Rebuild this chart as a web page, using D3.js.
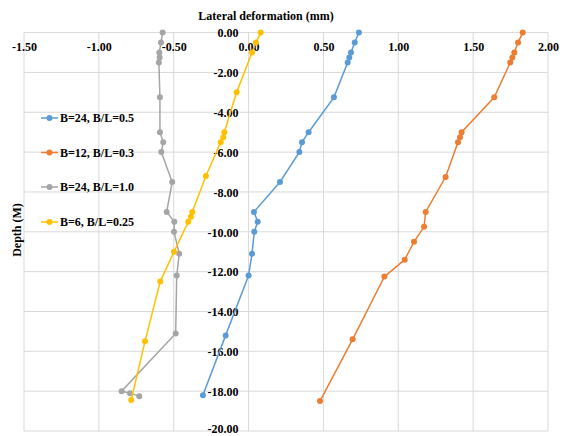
<!DOCTYPE html>
<html><head><meta charset="utf-8">
<script src="https://cdn.jsdelivr.net/npm/d3@7"></script>
<style>
html,body{margin:0;padding:0;background:#fff;}
svg text{font-family:"Liberation Serif","Times New Roman","DejaVu Serif",serif !important;font-weight:bold;fill:#000;}
</style></head>
<body><svg id="c" width="563" height="436"></svg>
<script>
const xTicks = [-1.5,-1.0,-0.5,0,0.5,1.0,1.5,2.0];
const yTicks = [0,-2,-4,-6,-8,-10,-12,-14,-16,-18,-20];

const seriesNames = ["B=24, B/L=0.5","B=12, B/L=0.3","B=24, B/L=1.0","B=6, B/L=0.25"];
const seriesColors = ["#5B9BD5","#ED7D31","#A5A5A5","#FFC000"];

const blueDepth = [0,-0.5,-1,-1.25,-1.5,-3.25,-5,-5.5,-6,-7.5,-9,-9.5,-10,-11.1,-12.2,-15.2,-18.2];
const blueDef   = [0.737,0.709,0.684,0.673,0.662,0.570,0.401,0.357,0.339,0.210,0.036,0.061,0.038,0.023,0.000,-0.153,-0.305];

const orangeDepth = [0,-0.5,-1,-1.25,-1.5,-3.25,-5,-5.25,-5.5,-7.25,-9,-9.75,-10.5,-11.4,-12.25,-15.4,-18.5];
const orangeDef   = [1.831,1.800,1.775,1.762,1.748,1.641,1.423,1.412,1.399,1.316,1.183,1.172,1.105,1.043,0.907,0.695,0.477];

const grayDepth = [0,-0.5,-1,-1.25,-1.5,-3.25,-5,-5.5,-6,-7.5,-9,-9.5,-10,-11.1,-12.2,-15.1,-18.0,-18.1,-18.25];
const grayDef   = [-0.574,-0.585,-0.596,-0.594,-0.599,-0.592,-0.592,-0.570,-0.583,-0.510,-0.547,-0.496,-0.498,-0.463,-0.480,-0.487,-0.848,-0.792,-0.730];

const yellowDepth = [0,-0.5,-1,-3,-5,-5.25,-5.5,-7.2,-9,-9.25,-9.5,-11,-12.5,-15.5,-18.45];
const yellowDef   = [0.081,0.049,0.023,-0.080,-0.162,-0.169,-0.186,-0.285,-0.376,-0.385,-0.403,-0.498,-0.590,-0.692,-0.784];

const series = [
  {name:seriesNames[0], color:seriesColors[0], x:blueDef,   y:blueDepth},
  {name:seriesNames[1], color:seriesColors[1], x:orangeDef, y:orangeDepth},
  {name:seriesNames[2], color:seriesColors[2], x:grayDef,   y:grayDepth},
  {name:seriesNames[3], color:seriesColors[3], x:yellowDef, y:yellowDepth}
];

const FONT = '"Liberation Serif","Times New Roman","DejaVu Serif",serif';
const svg = d3.select("#c");
const L = 24, R = 548, T = 32.6, B = 431;
const x = d3.scaleLinear().domain([-1.5,2.0]).range([L,R]);
const y = d3.scaleLinear().domain([0,-20]).range([T,B]);
const fmt = d => (Math.abs(d) < 1e-9 ? 0 : d).toFixed(2);

// gridlines
const grid = svg.append("g");
grid.selectAll("line.v").data(xTicks).join("line")
  .attr("x1", d=>x(d)).attr("x2", d=>x(d)).attr("y1", T).attr("y2", B)
  .attr("stroke", "#D9D9D9").attr("stroke-width", 1);
grid.selectAll("line.h").data(yTicks).join("line")
  .attr("x1", L).attr("x2", R).attr("y1", d=>y(d)).attr("y2", d=>y(d))
  .attr("stroke", "#D9D9D9").attr("stroke-width", 1);

// x axis (labels below the top line)
const gx = svg.append("g").attr("transform", `translate(0,${T})`)
  .call(d3.axisBottom(x).tickValues(xTicks).tickFormat(fmt).tickSize(0));
gx.attr("font-family", FONT);
gx.select(".domain").remove();
gx.selectAll("text").attr("y", 14).attr("dy", "0.35em")
  .attr("font-family", FONT).attr("font-weight","bold").attr("font-size","12px");

// y axis at x = 0
const gy = svg.append("g").attr("transform", `translate(${x(0)},0)`)
  .call(d3.axisLeft(y).tickValues(yTicks).tickFormat(fmt).tickSize(0).tickPadding(10));
gy.attr("font-family", FONT);
gy.select(".domain").remove();
gy.selectAll("text").attr("dy", d => d === -20 ? "0.1em" : "0.35em")
  .attr("font-family", FONT).attr("font-weight","bold").attr("font-size","12px");

// series
const line = d3.line().x(d=>x(d[0])).y(d=>y(d[1]));
series.forEach(s => {
  const pts = s.x.map((v,i)=>[v, s.y[i]]);
  const g = svg.append("g");
  g.append("path").datum(pts).attr("d", line).attr("fill","none")
    .attr("stroke", s.color).attr("stroke-width", 1.5);
  g.selectAll("circle").data(pts).join("circle")
    .attr("cx", d=>x(d[0])).attr("cy", d=>y(d[1])).attr("r", 3)
    .attr("fill", s.color);
});

// titles
svg.append("text").attr("x", 266).attr("y", 16).attr("dy","0.35em")
  .attr("text-anchor","middle").attr("font-family", FONT).attr("font-size","12px").text("Lateral deformation (mm)");
svg.append("text").attr("transform","translate(17,230) rotate(-90)").attr("dy","0.35em")
  .attr("text-anchor","middle").attr("font-family", FONT).attr("font-size","12px").text("Depth (M)");

// legend
const legY = [118, 152.5, 187, 222];
series.forEach((s,i) => {
  const g = svg.append("g").attr("transform", `translate(0,${legY[i]})`);
  g.append("line").attr("x1",41).attr("x2",58).attr("y1",0).attr("y2",0)
    .attr("stroke", s.color).attr("stroke-width",1.5);
  g.append("circle").attr("cx",49.5).attr("cy",0).attr("r",3).attr("fill", s.color);
  g.append("text").attr("x",60).attr("y",0).attr("dy","0.35em")
    .attr("font-family", FONT).attr("font-size","12px").text(s.name);
});
</script></body></html>
